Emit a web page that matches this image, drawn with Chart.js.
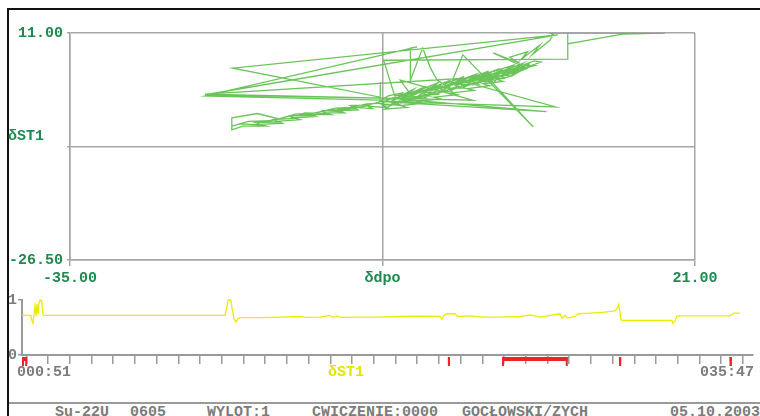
<!DOCTYPE html>
<html>
<head>
<meta charset="utf-8">
<script src="https://cdn.jsdelivr.net/npm/chart.js@4/dist/chart.umd.min.js"></script>
<style>
  html, body { margin: 0; padding: 0; background: #fff; }
  body { width: 760px; height: 416px; position: relative; overflow: hidden;
         font-family: "Liberation Mono", monospace; font-weight: bold; font-size: 15px; }
  canvas { position: absolute; left: 0; }
  #xy { top: 0; }
  #time { top: 290px; }
  .txt { position: absolute; line-height: 16px; white-space: pre; }
  .green { color: #1f8a4f; }
  .grey { color: #7c7c7c; }
  .yellow { color: #e4e400; }
  .rule { position: absolute; }
</style>
</head>
<body>
<div class="rule" style="left:8px;top:8px;width:752px;height:2px;background:#111"></div>
<div class="rule" style="left:7px;top:8px;width:2px;height:408px;background:#111"></div>
<div class="rule" style="left:9px;top:402px;width:751px;height:2px;background:#9a9a9a"></div>

<canvas id="xy" width="760" height="290"></canvas>
<canvas id="time" width="760" height="95"></canvas>

<div class="txt green" style="left:8px;top:129px">δST1</div>
<div class="txt grey" style="left:17px;top:365px">000:51</div>
<div class="txt yellow" style="left:328px;top:365px">δST1</div>
<div class="txt grey" style="left:700px;top:365px">035:47</div>

<div class="txt grey" style="left:55px;top:405px">Su-22U</div>
<div class="txt grey" style="left:130px;top:405px">0605</div>
<div class="txt grey" style="left:207px;top:405px">WYLOT:1</div>
<div class="txt grey" style="left:312px;top:405px">CWICZENIE:0000</div>
<div class="txt grey" style="left:462px;top:405px">GOCŁOWSKI/ZYCH</div>
<div class="txt grey" style="left:670px;top:405px">05.10.2003</div>

<script>
// wykres fazowy dpo / ST1
const dpo = [
  -6.9, -5.8, -6.2, -4.9, -5.3, -3.8, -4.4, -2.9, -3.5, -1.8, -2.6, -0.9, -1.5, 0.2, -0.5, 1.3, 0.6, 2.2, 1.5, 3.1, 2.4, 4.0, 3.2, 5.0, 4.1, 5.8,
  2.9, 5.3, 4.4, 6.0, 5.4, 7.1, 6.4, 8.0, 8.3, 8.0, 18.3, 14.5, 9.6, 9.6, 9.6, -6.9, -5.9,
  4.8, 3.6, 3.9, 2.5, 2.8, 1.2, 1.6, 0.1, 0.4, -1.1, -0.8, -2.3, -2.0, -3.4, -3.1, -4.6, -4.3, -5.8, -5.5, -7.0,
  -6.6, -8.3, -7.9, -9.5, -9.2, -10.8, -10.4, -12.1, -11.6, -13.5, -13.0, -15.0, -14.4, -16.5, -16.0, -18.0, -17.4, -19.5, -20.5,
  -20.5, -18.2, -16.3, -14.8, -13.0, -11.2, -9.8, -8.4, -7.0, -6.1, -5.0, -4.1, -3.0, -2.2, -1.2, -0.3, 0.8, 1.8, 2.9, 3.8, 4.9, 5.6, 6.6,
  1.0, 8.5, -7.2, 7.7, -6.2, -22.9, 8.7, -20.4, -7.2, -7.2, -7.2, -22.9, -3.9, -4.5, -4.5, -3.4, -2.7, -2.1, -1.0, 0.2, 6.5, 2.9, 3.5, -22.9, 1.1, -5.4, -4.5,
  -3.6, -4.0, -2.7, -3.2, -1.7, -2.1, -0.6, -1.2, 0.5, -0.1, 1.6, 1.0, 2.6, 2.0, 3.6, 3.0, 4.5, 3.9, 5.4, 4.6, 6.2,
  5.0, 3.4, 4.2, 2.2, 2.9, 0.8, 1.5, -0.6, 0.1, -2.0, -1.3, -3.5, -2.8, -5.0, -4.2, -6.5, -5.8, -7.6,
  -8.8, -9.9, -9.4, -11.0, -10.6, -12.4, -12.0, -13.8, -13.2, -15.3, -14.8, -16.8, -16.2, -18.4, -17.8, -19.8, -20.5,
  -19.0, -17.0, -15.5, -13.6, -12.0, -10.2, -8.6, -7.4,
  -6.5, -5.2, -5.6, -4.2, -4.7, -3.1, -3.6, -2.0, -2.5, -0.9, -1.4, 0.3, -0.3, 1.4, 0.8, 2.5, 1.9, 3.5, 2.9, 4.6, 4.0, 5.6, 5.0, 6.6, 7.2, 6.0,
  4.6, 3.3, 3.8, 2.0, 2.6, 0.6, 1.2, -0.9, -0.3, -2.4, -1.8, -3.9, -3.3, -5.4, -4.8, -6.8,
  -5.9, -6.3, -4.8, -5.2, -3.7, -4.1, -2.6, -3.0, -1.5, -1.9, -0.4, -0.8, 0.7, 0.3, 1.8, 1.4, 2.9, 2.5, 4.0, 3.6, 5.1, 4.7, 6.0
];
const st1 = [
  -0.1, 0.2, -0.3, 0.9, 0.1, 1.2, 0.6, 1.8, 1.0, 2.4, 1.5, 2.4, 2.0, 3.1, 2.5, 3.6, 2.9, 4.1, 3.3, 4.4, 3.8, 4.9, 4.2, 5.3, 4.5, 5.3,
  7.7, 6.0, 7.0, 7.9, 6.6, 9.0, 7.4, 9.8, 10.7, 11.0, 11.0, 10.8, 9.2, 11.0, 6.7, 6.5, 0.6,
  4.4, 4.0, 3.5, 3.4, 3.0, 2.9, 2.5, 2.4, 1.9, 1.9, 1.4, 1.3, 0.9, 0.7, 0.3, 0.2, -0.2, -0.4, -0.8, -0.9,
  -1.3, -1.1, -1.5, -1.3, -1.7, -1.8, -2.2, -2.2, -2.5, -2.5, -2.8, -3.0, -3.3, -3.6, -3.9, -4.1, -4.4, -4.4, -5.0,
  -3.0, -2.3, -3.2, -2.4, -2.2, -1.4, -1.3, -0.7, -0.6, 0.3, 0.5, 1.4, 1.4, 2.1, 2.1, 2.9, 2.8, 3.7, 3.6, 4.6, 4.5, 5.6, 5.6,
  2.6, -1.2, -0.3, -2.0, 0.2, 0.8, 10.7, 5.2, 0.4, 2.9, -0.1, 0.6, 8.7, 8.5, 3.2, 8.5, 5.2, 3.2, 2.0, 7.4, -4.5, 2.7, 3.9, 0.9, -0.1, 3.2, 0.9,
  1.6, 0.9, 2.0, 1.3, 2.6, 1.7, 2.9, 2.3, 3.4, 2.7, 3.9, 3.0, 4.3, 3.5, 4.8, 3.9, 5.3, 4.4, 5.6, 4.7, 5.9,
  4.9, 4.6, 4.0, 3.8, 3.2, 3.2, 2.6, 2.5, 1.9, 1.9, 1.3, 1.1, 0.6, 0.4, -0.2, -0.3, -0.9, -0.6,
  -0.9, -1.0, -1.5, -1.5, -2.0, -1.8, -2.3, -2.2, -2.6, -2.7, -3.1, -3.3, -3.7, -3.8, -4.2, -4.0, -4.4,
  -3.6, -3.5, -2.8, -2.4, -1.8, -1.6, -1.1, -0.5,
  0.6, 1.1, 0.4, 1.7, 0.9, 2.2, 1.6, 2.8, 2.0, 3.2, 2.6, 3.8, 3.1, 4.2, 3.5, 4.7, 4.0, 5.1, 4.6, 5.6, 4.9, 6.0, 5.3, 6.4, 6.2, 5.4,
  3.9, 3.3, 3.0, 2.6, 2.3, 1.8, 1.5, 1.1, 0.8, 0.4, 0.1, -0.3, -0.6, -1.0, -1.3, -1.6,
  -0.5, -1.0, 0.1, -0.5, 0.6, 0.1, 1.1, 0.6, 1.6, 1.1, 2.1, 1.6, 2.6, 2.1, 3.1, 2.6, 3.6, 3.1, 4.1, 3.7, 4.7, 4.2, 5.2
];
const xTickValues = [-35, -7, 21];
const xTickLabels = ["-35.00", "δdpo", "21.00"];
const yTickValues = [-26.5, -7.75, 11];
const yTickLabels = ["-26.50", "", "11.00"];

// przebieg czasowy ST1 (czas w sekundach)
const tSec = [
  51, 77, 80, 83, 86, 89, 92, 95, 98, 101, 104, 107, 109, 112, 115,
  644, 650, 653, 661, 664, 670, 676, 682, 688,
  746, 804, 863, 877, 921, 950, 959, 971, 980,
  1038, 1096, 1155, 1213, 1272, 1277, 1283, 1292, 1315, 1324, 1359,
  1403, 1447, 1505, 1534, 1564, 1622, 1628, 1637, 1645, 1666, 1675, 1710, 1753, 1783, 1791, 1794, 1797, 1800, 1803,
  1949, 1952, 1958, 1964,
  2118, 2130, 2147
];
const st1Trace = [
  0.72, 0.72, 0.62, 0.58, 0.75, 0.9, 0.7, 0.93, 0.74, 0.96, 1.0, 0.99, 0.94, 0.74, 0.72,
  0.72, 0.9, 1.0, 1.0, 0.86, 0.66, 0.6, 0.66, 0.68,
  0.68, 0.69, 0.70, 0.685, 0.69, 0.72, 0.68, 0.71, 0.685,
  0.69, 0.69, 0.70, 0.705, 0.70, 0.65, 0.72, 0.75, 0.75, 0.70, 0.71,
  0.69, 0.69, 0.70, 0.73, 0.69, 0.75, 0.67, 0.72, 0.67, 0.70, 0.75, 0.76, 0.78, 0.80, 0.87, 0.92, 0.80, 0.65, 0.63,
  0.63, 0.57, 0.62, 0.71,
  0.71, 0.76, 0.76
];
const markStart = [51, 1295, 1453, 1795, 2118];
const markEnd = [66, 1300, 1645, 1799, 2122];
const timeTicks = [];
for (let k = 0; k <= 33; k++) timeTicks.push(63.6 + 63.42 * k);

const fontMono = { family: "Liberation Mono", weight: "bold", size: 15 };
const gridGrey = "#a6a6a6";

new Chart(document.getElementById("xy"), {
  type: "scatter",
  data: {
    datasets: [
      {
        data: dpo.map((x, i) => ({ x: x, y: st1[i] })),
        showLine: true,
        borderColor: "rgba(80,186,60,0.85)",
        borderWidth: 1.3,
        pointRadius: 0,
        tension: 0,
      },
    ],
  },
  options: {
    responsive: false,
    animation: false,
    layout: { padding: { top: 33, right: 65, left: 0, bottom: 0 } },
    plugins: { legend: { display: false }, tooltip: { enabled: false } },
    scales: {
      x: {
        type: "linear",
        min: -35,
        max: 21,
        afterBuildTicks: (s) => { s.ticks = xTickValues.map((v) => ({ value: v })); },
        afterFit: (s) => { s.height = 30; },
        grid: { color: gridGrey, lineWidth: 1.5, tickLength: 6 },
        border: { color: gridGrey, width: 1.5 },
        ticks: {
          color: "#1f8a4f",
          font: fontMono,
          padding: 3,
          maxRotation: 0,
          autoSkip: false,
          callback: (v, i) => xTickLabels[i],
        },
      },
      y: {
        type: "linear",
        min: -26.5,
        max: 11,
        afterBuildTicks: (s) => { s.ticks = yTickValues.map((v) => ({ value: v })); },
        afterFit: (s) => { s.width = 70; },
        grid: { color: gridGrey, lineWidth: 1.5, tickLength: 3 },
        border: { color: gridGrey, width: 1.5 },
        ticks: {
          color: "#1f8a4f",
          font: fontMono,
          padding: 4,
          autoSkip: false,
          callback: (v, i) => yTickLabels[i],
        },
      },
    },
  },
});

// czerwone znaczniki pod osią czasu
const redMarks = {
  id: "redMarks",
  afterDraw(chart) {
    const { ctx, scales: { x, y } } = chart;
    const y0 = y.getPixelForValue(0);
    ctx.save();
    ctx.fillStyle = "#e8262a";
    markStart.forEach((t0, i) => {
      const p0 = x.getPixelForValue(t0);
      const p1 = x.getPixelForValue(markEnd[i]);
      ctx.fillRect(p0, y0 + 2, Math.max(p1 - p0, 2), 4);
      ctx.fillRect(p0, y0 + 2, 2, 9);
      ctx.fillRect(Math.max(p1 - 2, p0), y0 + 2, 2, 9);
    });
    ctx.restore();
  },
};

new Chart(document.getElementById("time"), {
  type: "line",
  data: {
    datasets: [
      {
        data: tSec.map((t, i) => ({ x: t, y: st1Trace[i] })),
        borderColor: "#ecec00",
        borderWidth: 1.3,
        pointRadius: 0,
        tension: 0,
        clip: 3,
      },
    ],
  },
  options: {
    responsive: false,
    animation: false,
    layout: { padding: { top: 8, right: 7, left: 0, bottom: 0 } },
    plugins: { legend: { display: false }, tooltip: { enabled: false } },
    scales: {
      x: {
        type: "linear",
        min: 51,
        max: 2186,
        afterBuildTicks: (s) => { s.ticks = timeTicks.map((v) => ({ value: v })); },
        afterFit: (s) => { s.height = 30; },
        grid: { drawOnChartArea: false, tickLength: 9, color: "#9a9a9a", lineWidth: 1.5 },
        border: { color: "#9a9a9a", width: 2 },
        ticks: { display: false },
      },
      y: {
        type: "linear",
        min: 0,
        max: 1,
        afterBuildTicks: (s) => { s.ticks = [{ value: 0 }, { value: 1 }]; },
        afterFit: (s) => { s.width = 22; },
        grid: { drawOnChartArea: false, tickLength: 4, color: "#9a9a9a", lineWidth: 1.5 },
        border: { color: "#9a9a9a", width: 2 },
        ticks: { color: "#7c7c7c", font: fontMono, padding: 1, callback: (v) => String(v) },
      },
    },
  },
  plugins: [redMarks],
});
</script>
</body>
</html>
